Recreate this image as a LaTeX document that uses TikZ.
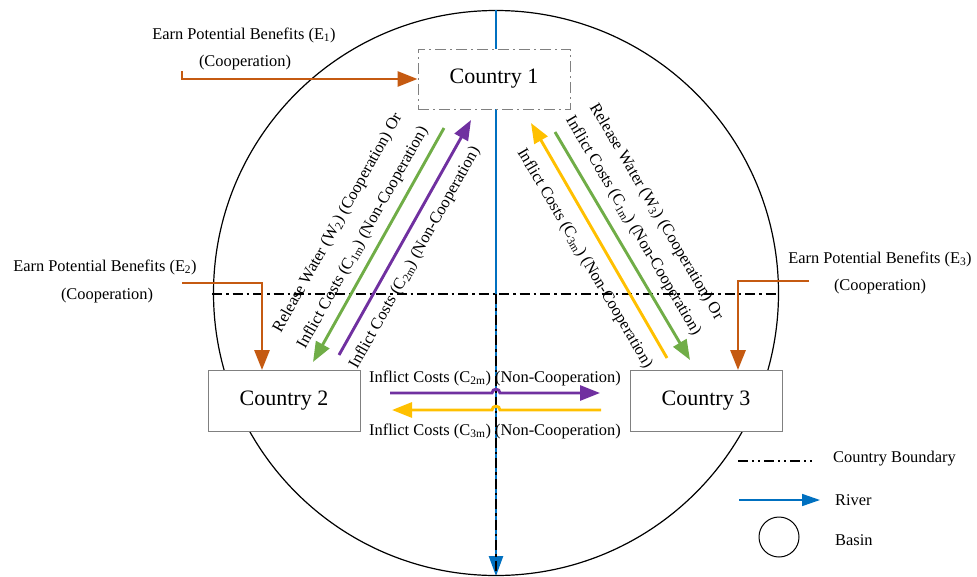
\documentclass[tikz,border=0pt]{standalone}
\usepackage{fontspec}
\setmainfont{Liberation Serif}
\usetikzlibrary{arrows.meta}
\definecolor{corange}{HTML}{C55A11}
\definecolor{cgreen}{HTML}{70AD47}
\definecolor{cpurple}{HTML}{7030A0}
\definecolor{cyellow}{HTML}{FFC000}
\definecolor{cblue}{HTML}{0070C0}
\definecolor{cgray}{HTML}{808080}
\tikzset{
  box/.style={draw=cgray, line width=0.9pt, fill=white, minimum width=152pt, minimum height=61pt, inner sep=0pt, font=\fontsize{22}{25}\selectfont},
  lbl/.style={font=\fontsize{16.4}{19}\selectfont, inner sep=0pt},
  bigarr/.style={line width=2.9pt, -{Triangle[length=20pt,width=15pt]}},
  orarr/.style={bigarr, draw=corange, color=corange},
  bnd/.style={line width=1.1pt, dash pattern=on 10pt off 4pt on 2.5pt off 4pt},
  lbnd/.style={line width=1.1pt, dash pattern=on 10pt off 4pt on 2pt off 4pt on 2pt off 4pt},
  riv/.style={line width=2.2pt, draw=cblue, color=cblue, -{Triangle[length=20pt,width=14pt]}}
}
\begin{document}
\begin{tikzpicture}[x=1pt,y=-1pt]
\useasboundingbox (0,0) rectangle (977,576);
% basin
\node[draw, line width=1.2pt, circle, minimum size=565pt, inner sep=0pt] (basin) at (496,293) {};
% country boundary
\coordinate (bl) at (212,294);
\coordinate (br) at (779,294);
\draw[bnd] (bl) -- (br);
% river
\draw[riv] (basin.north) -- (basin.south);
\coordinate (vb) at (496,294);
\draw[bnd] (vb) -- (basin.south);
% countries
\node[box, draw=cgray, dash pattern=on 11pt off 4pt on 2pt off 4pt, minimum height=60pt] (c1) at (494,79) {Country 1};
\node[box] (c2) at (284,401) {Country 2};
\node[box] (c3) at (706,401) {Country 3};
% E1
\node[lbl] (e1t) at (244,35) {Earn Potential Benefits (E\textsubscript{1})};
\node[lbl] (e1c) at (245,63) {(Cooperation)};
\coordinate (e1s) at (182,71);
\coordinate (e1k) at (182,79);
\draw[orarr] (e1s) -- (e1k) -- (c1.west);
% E2
\node[lbl] (e2t) at (105,267) {Earn Potential Benefits (E\textsubscript{2})};
\node[lbl] (e2c) at (107,296) {(Cooperation)};
\coordinate (e2s) at (182,283);
\coordinate (e2k) at (262,283);
\draw[orarr] (e2s) -- (e2k) -- (e2k |- c2.north);
% E3
\node[lbl] (e3t) at (880,259) {Earn Potential Benefits (E\textsubscript{3})};
\node[lbl] (e3c) at (880,287) {(Cooperation)};
\coordinate (e3s) at (809,281);
\coordinate (e3k) at (738,281);
\draw[orarr] (e3s) -- (e3k) -- (e3k |- c3.north);
% left diagonal arrows
\coordinate (g1a) at (444,128);
\coordinate (g1b) at (313,362);
\draw[bigarr, draw=cgreen, color=cgreen] (g1a) -- (g1b);
\coordinate (p1a) at (339,355);
\coordinate (p1b) at (471,120);
\draw[bigarr, draw=cpurple, color=cpurple] (p1a) -- (p1b);
\node[lbl, rotate=60.8] (lw2) at (338,223) {Release Water (W\textsubscript{2}) (Cooperation) Or};
\node[lbl, rotate=60.8] (lc1) at (363,238) {Inflict Costs (C\textsubscript{1m}) (Non-Cooperation)};
\node[lbl, rotate=60.8] (lc2) at (415,258) {Inflict Costs (C\textsubscript{2m}) (Non-Cooperation)};
% right diagonal arrows
\coordinate (y1a) at (667,358);
\coordinate (y1b) at (531,123);
\draw[bigarr, draw=cyellow, color=cyellow] (y1a) -- (y1b);
\coordinate (g2a) at (555,132);
\coordinate (g2b) at (690,360);
\draw[bigarr, draw=cgreen, color=cgreen] (g2a) -- (g2b);
\node[lbl, rotate=-59.4] (rw3) at (656,212) {Release Water (W\textsubscript{3}) (Cooperation) Or};
\node[lbl, rotate=-59.4] (rc1) at (633,226) {Inflict Costs (C\textsubscript{1m}) (Non-Cooperation)};
\node[lbl, rotate=-59.4] (rc3) at (584.5,258.5) {Inflict Costs (C\textsubscript{3m}) (Non-Cooperation)};
% horizontal arrows
\coordinate (p2a) at (390,393);
\coordinate (p2b) at (600,393);
\draw[bigarr, draw=cpurple, color=cpurple] (p2a) -- (492,393) .. controls (492,388) and (500,388) .. (500,393) -- (p2b);
\coordinate (y2a) at (601,410);
\coordinate (y2b) at (392,410);
\draw[bigarr, draw=cyellow, color=cyellow] (y2a) -- (500,410) .. controls (500,405) and (492,405) .. (492,410) -- (y2b);
\node[lbl] (hc2) at (495,378) {Inflict Costs (C\textsubscript{2m}) (Non-Cooperation)};
\node[lbl] (hc3) at (495,431) {Inflict Costs (C\textsubscript{3m}) (Non-Cooperation)};
% legend
\coordinate (lb1) at (738,461);
\coordinate (lb2) at (814,461);
\draw[lbnd] (lb1) -- (lb2);
\node[lbl, anchor=west] (lbt) at (833,459) {Country Boundary};
\coordinate (lr1) at (739,500);
\coordinate (lr2) at (820,500);
\draw[line width=1.6pt, draw=cblue, color=cblue, -{Triangle[length=18pt,width=12pt]}] (lr1) -- (lr2);
\node[lbl, anchor=west] (lrt) at (835,500) {River};
\node[draw, circle, line width=1pt, minimum size=40pt, inner sep=0pt] (lc) at (779,537) {};
\node[lbl, anchor=west] (lct) at (835,540) {Basin};
\end{tikzpicture}
\end{document}
